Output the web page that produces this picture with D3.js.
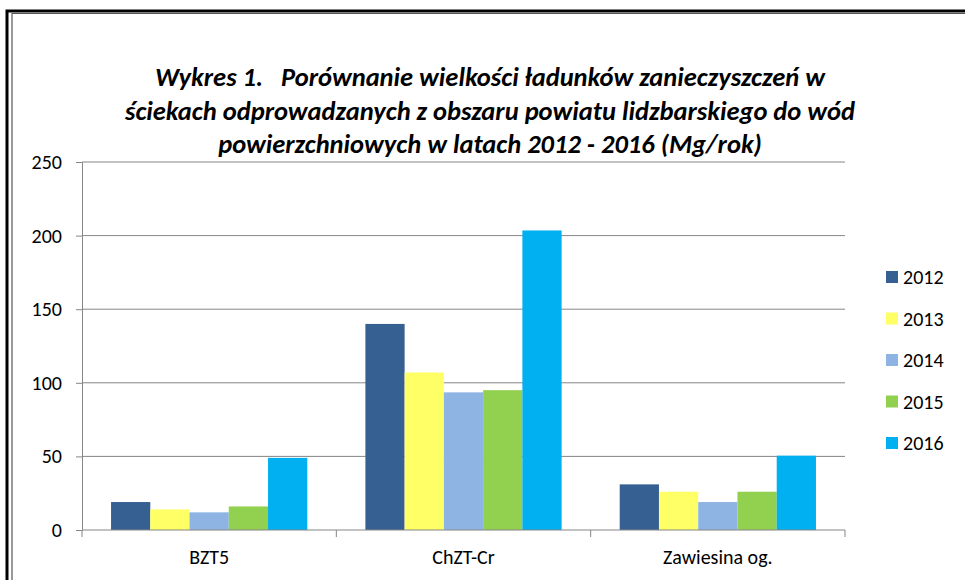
<!DOCTYPE html>
<html>
<head>
<meta charset="utf-8">
<script src="https://cdn.jsdelivr.net/npm/d3@7"></script>
<style>
  body { margin: 0; background: #fff; }
  svg { display: block; font-family: Carlito, Lato, "Open Sans", sans-serif; }
</style>
</head>
<body>
<svg width="965" height="580"></svg>
<script>
const categories = ['BZT5', 'ChZT-Cr', 'Zawiesina og.'];
const years = ['2012', '2013', '2014', '2015', '2016'];
const values = {
  '2012': [19, 140, 31],
  '2013': [14, 107, 26],
  '2014': [12, 93.5, 19],
  '2015': [16, 95, 26],
  '2016': [49, 203.5, 50.5]
};
const colors = ['#376092', '#ffff66', '#8eb4e3', '#92d050', '#00b0f0'];
const yTicks = [0, 50, 100, 150, 200, 250];
const titleLines = [
  'Wykres 1.   Porównanie wielkości ładunków zanieczyszczeń w',
  'ściekach odprowadzanych z obszaru powiatu lidzbarskiego do wód',
  'powierzchniowych w latach 2012 - 2016 (Mg/rok)'
];
const font = 'Carlito, Lato, "Open Sans", sans-serif';

const svg = d3.select('svg');

// frame (double line on top / left)
svg.append('path')
  .attr('d', 'M7,580 V11 H965')
  .attr('fill', 'none')
  .attr('stroke', '#000')
  .attr('stroke-width', 3);
svg.append('path')
  .attr('d', 'M12,580 V13.5 H965')
  .attr('fill', 'none')
  .attr('stroke', '#555')
  .attr('stroke-width', 1.2);

// title
svg.append('g')
  .selectAll('text')
  .data(titleLines)
  .enter().append('text')
    .attr('x', 490)
    .attr('y', (d, i) => 86 + i * 33.5)
    .attr('text-anchor', 'middle')
    .attr('font-size', 26.5)
    .attr('font-weight', 'bold')
    .attr('font-style', 'italic')
    .attr('fill', '#000')
    .style('white-space', 'pre')
    .text(d => d);

const x0 = d3.scaleBand()
  .domain(categories)
  .range([82, 845])
  .paddingInner(0)
  .paddingOuter(0);
const x1 = d3.scaleBand()
  .domain(years)
  .range([0, x0.bandwidth()])
  .paddingInner(0)
  .paddingOuter(0.74);
const y = d3.scaleLinear()
  .domain([0, 250])
  .range([530, 162]);

// gridlines
svg.append('g')
  .selectAll('line')
  .data(yTicks.filter(d => d > 0))
  .enter().append('line')
    .attr('x1', 82)
    .attr('x2', 845)
    .attr('y1', d => y(d))
    .attr('y2', d => y(d))
    .attr('stroke', '#868686')
    .attr('stroke-width', 1);

// bars
const groups = svg.append('g')
  .selectAll('g')
  .data(years)
  .enter().append('g')
    .attr('fill', (d, i) => colors[i]);
groups.selectAll('rect')
  .data(yr => values[yr].map((v, ci) => ({ yr, cat: categories[ci], v })))
  .enter().append('rect')
    .attr('x', d => x0(d.cat) + x1(d.yr))
    .attr('width', x1.bandwidth())
    .attr('y', d => y(d.v))
    .attr('height', d => y(0) - y(d.v));

// y axis
const yAxis = svg.append('g')
  .attr('transform', 'translate(82,0)')
  .call(d3.axisLeft(y).tickValues(yTicks).tickSize(6).tickPadding(14));
yAxis.select('.domain').attr('stroke', '#868686');
yAxis.selectAll('.tick line').attr('stroke', '#868686');
yAxis.selectAll('.tick text')
  .attr('font-size', 20)
  .attr('fill', '#000')
  .attr('font-family', font);

// x axis
const xAxis = svg.append('g')
  .attr('transform', 'translate(0,530)')
  .call(d3.axisBottom(x0).tickSize(0));
xAxis.select('.domain').attr('stroke', '#868686').attr('d', 'M82,0H845');
xAxis.selectAll('.tick text')
  .attr('y', 27)
  .attr('dy', '0.35em')
  .attr('font-size', 20)
  .attr('fill', '#000')
  .attr('font-family', font);
xAxis.append('g')
  .selectAll('line')
  .data(categories.map(c => x0(c)).concat([845]))
  .enter().append('line')
    .attr('x1', d => d)
    .attr('x2', d => d)
    .attr('y1', 0)
    .attr('y2', 7)
    .attr('stroke', '#868686');

// legend
const legend = svg.append('g')
  .selectAll('g')
  .data(years)
  .enter().append('g')
    .attr('transform', (d, i) => `translate(886,${277 + i * 41.5})`);
legend.append('rect')
  .attr('x', 0)
  .attr('y', -6)
  .attr('width', 12)
  .attr('height', 12)
  .attr('fill', (d, i) => colors[i]);
legend.append('text')
  .attr('x', 17)
  .attr('y', 0)
  .attr('dy', '0.35em')
  .attr('font-size', 20)
  .attr('fill', '#000')
  .text(d => d);
</script>
</body>
</html>
